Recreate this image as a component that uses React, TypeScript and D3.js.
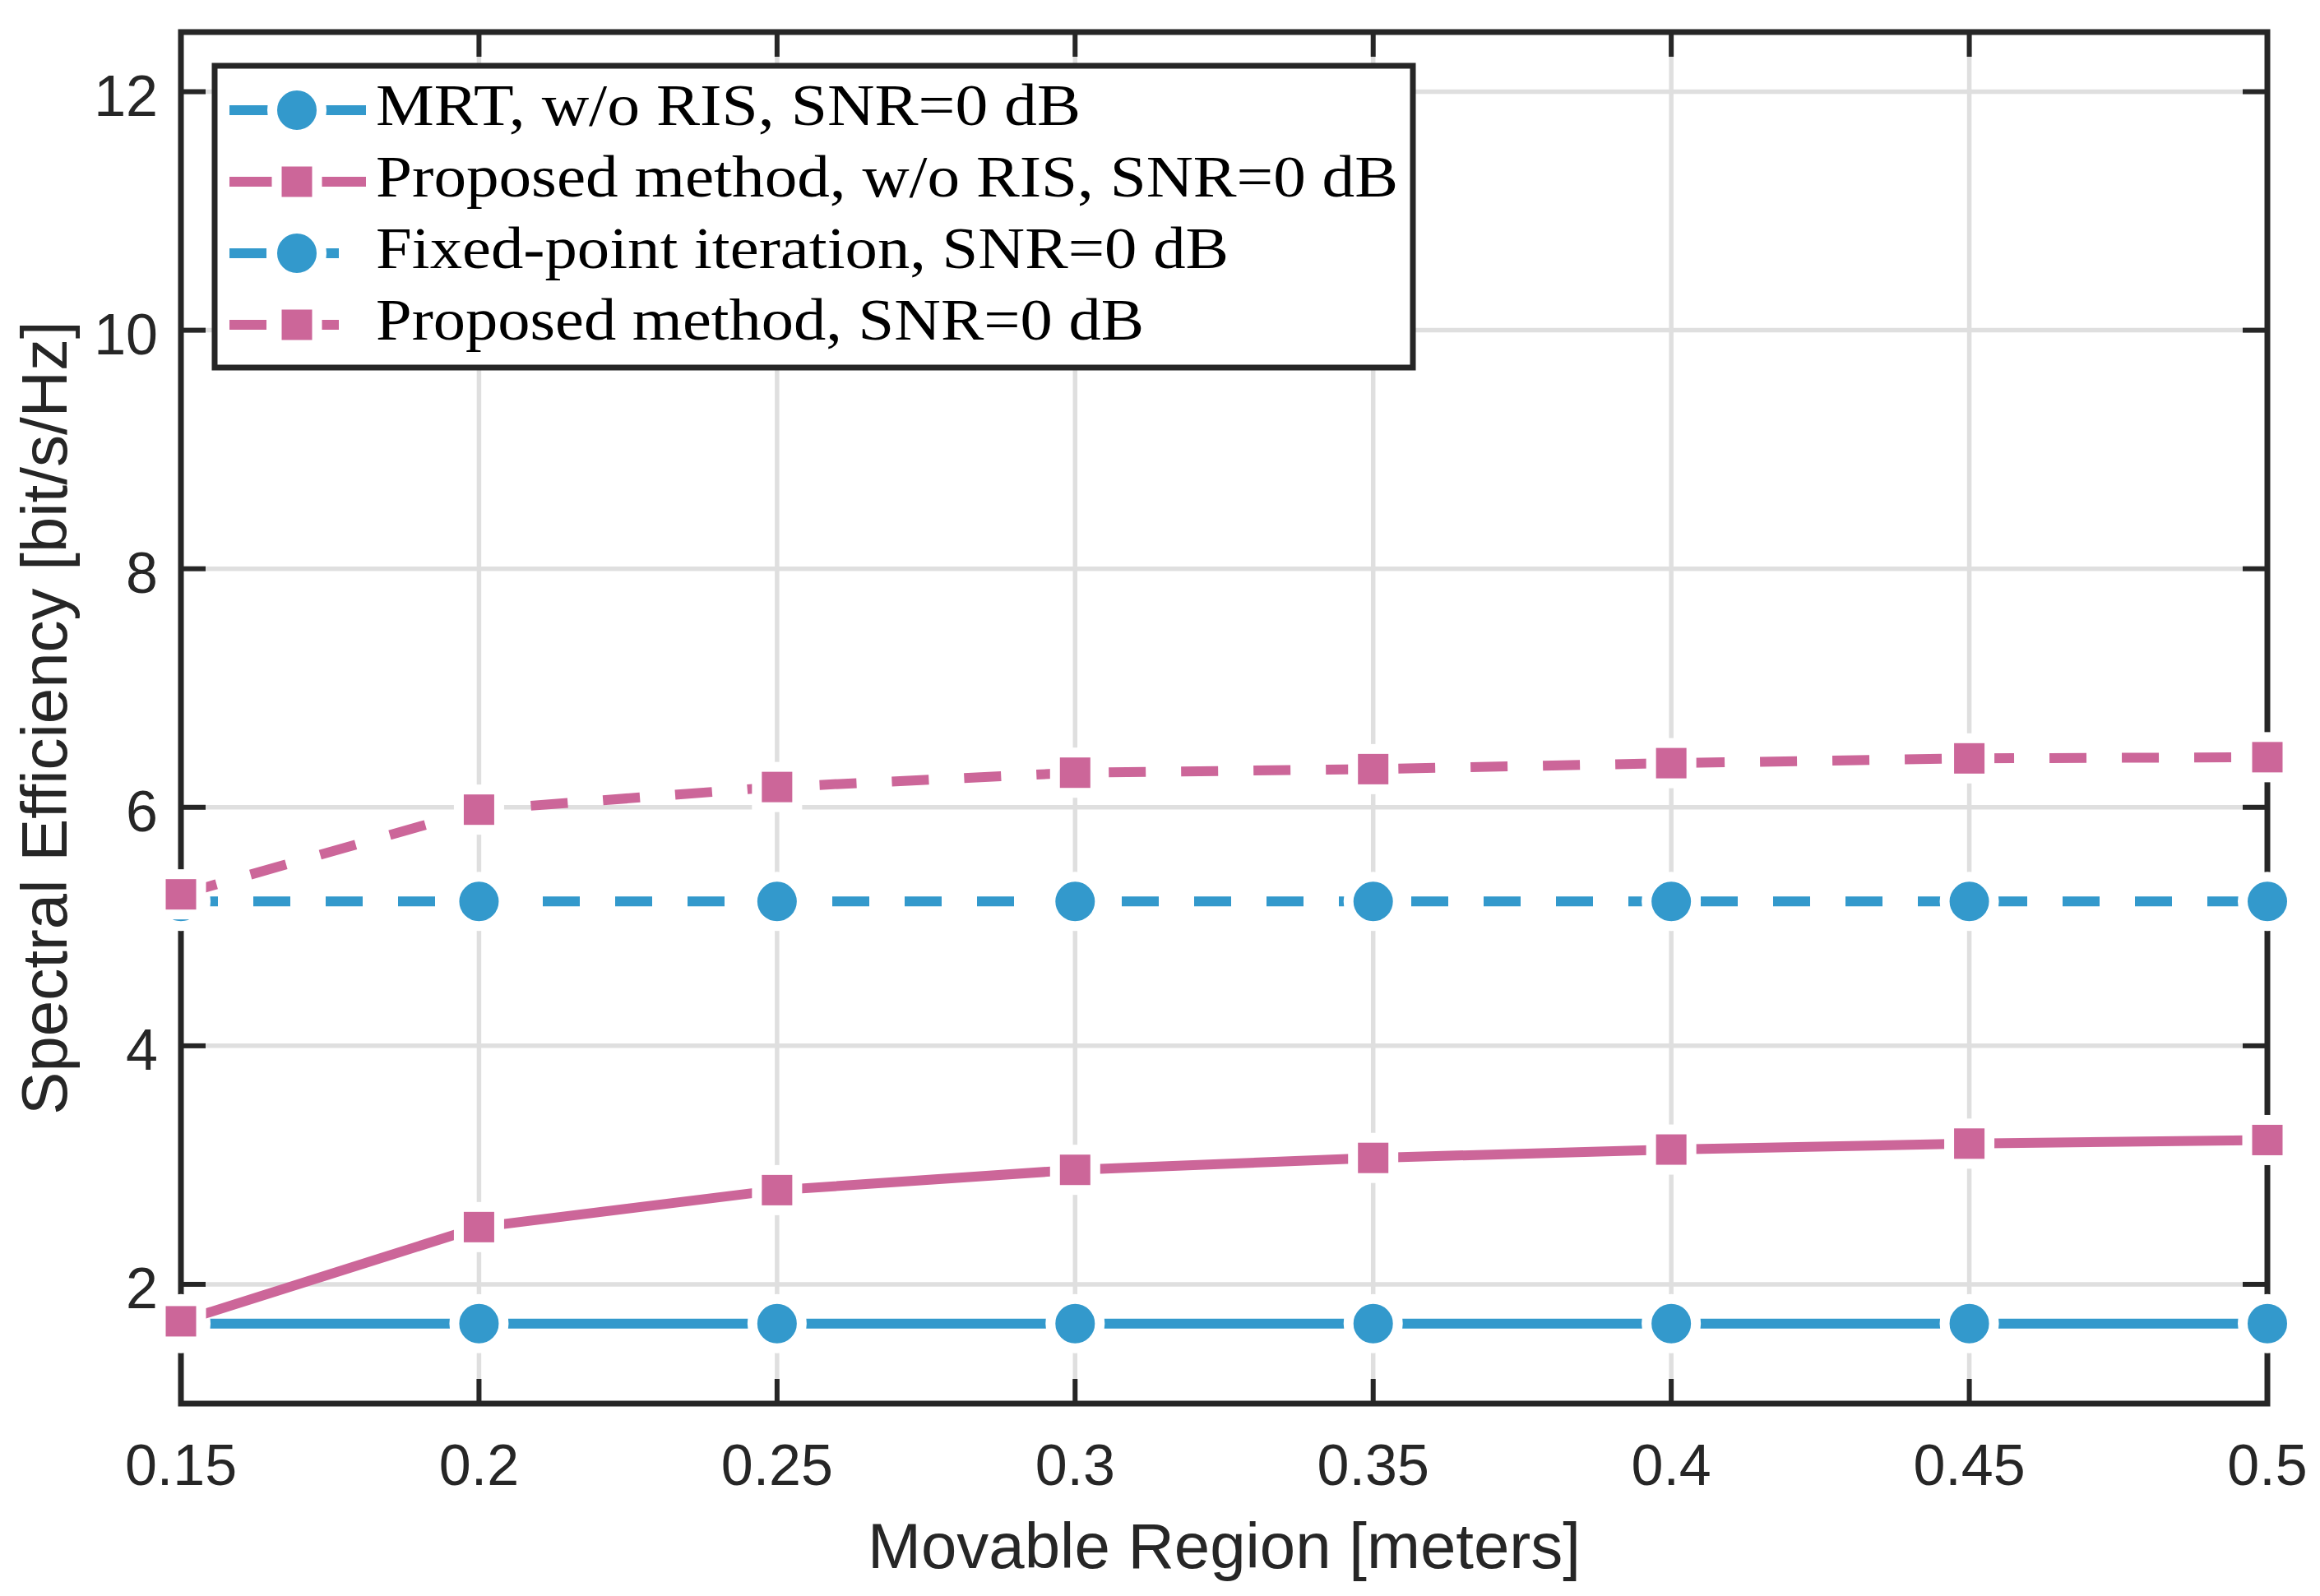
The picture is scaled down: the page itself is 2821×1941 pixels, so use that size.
import React, { useEffect } from 'react';
import * as d3 from 'd3';

// movable region sizes [meters]
const regions = [0.15, 0.2, 0.25, 0.3, 0.35, 0.4, 0.45, 0.5];

// spectral efficiency [bit/s/Hz]
const mrtNoRis = [1.67, 1.67, 1.67, 1.67, 1.67, 1.67, 1.67, 1.67];
const proposedNoRis = [1.69, 2.48, 2.79, 2.96, 3.06, 3.13, 3.18, 3.21];
const fixedPoint = [5.21, 5.21, 5.21, 5.21, 5.21, 5.21, 5.21, 5.21];
const proposed = [5.27, 5.98, 6.17, 6.29, 6.32, 6.37, 6.41, 6.42];

const xTicks = [0.15, 0.2, 0.25, 0.3, 0.35, 0.4, 0.45, 0.5];
const yTicks = [2, 4, 6, 8, 10, 12];

const seriesNames = [
  'MRT, w/o RIS, SNR=0 dB',
  'Proposed method, w/o RIS, SNR=0 dB',
  'Fixed-point iteration, SNR=0 dB',
  'Proposed method, SNR=0 dB',
];

const BLUE = '#3399cc';
const PINK = '#cc6699';
const AXIS = '#262626';
const GRID = '#dfdfdf';

const series = [
  { name: seriesNames[0], values: mrtNoRis, color: BLUE, marker: 'circle', dash: null, textLen: 857 },
  { name: seriesNames[1], values: proposedNoRis, color: PINK, marker: 'square', dash: null, textLen: 1243 },
  { name: seriesNames[2], values: fixedPoint, color: BLUE, marker: 'circle', dash: '45 43', textLen: 1037 },
  { name: seriesNames[3], values: proposed, color: PINK, marker: 'square', dash: '45 43', textLen: 934 },
];

const W = 2821;
const H = 1941;
const left = 220;
const right = 2757;
const top = 39;
const bottom = 1707;

const sans = 'Liberation Sans, Arial, Helvetica, sans-serif';
const serif = 'Liberation Serif, Times New Roman, serif';

const Marker: React.FC<{ kind: string; cx: number; cy: number; color: string }> = ({ kind, cx, cy, color }) =>
  kind === 'circle' ? (
    <circle cx={cx} cy={cy} r={30} fill={color} stroke="#fff" strokeWidth={12} />
  ) : (
    <rect x={cx - 24.5} y={cy - 24.5} width={49} height={49} fill={color} stroke="#fff" strokeWidth={12} />
  );

export default function App() {
  useEffect(() => {
    document.body.style.margin = '0';
  }, []);

  const x = d3.scaleLinear().domain([0.15, 0.5]).range([left, right]);
  const y = d3.scaleLinear().domain([1, 12.5]).range([bottom, top]);

  const line = d3
    .line<number>()
    .x((_, i) => x(regions[i]))
    .y((d) => y(d));

  const fmt = (d: number) => String(+d.toFixed(2));
  const tickLen = 30;

  // legend layout
  const lgX = 261;
  const lgY = 80;
  const lgW = 1457;
  const lgH = 367;
  const rowY = [134, 221, 308, 395];
  const lineX0 = 279;
  const lineX1 = 445;
  const markX = 361;
  const textX = 457;

  return (
    <svg width={W} height={H} viewBox={`0 0 ${W} ${H}`} style={{ display: 'block', background: '#fff' }}>
      <rect x={0} y={0} width={W} height={H} fill="#fff" />

      {/* grid */}
      <g stroke={GRID} strokeWidth={5.5}>
        {xTicks.map((t) => (
          <line key={'gx' + t} x1={x(t)} x2={x(t)} y1={top} y2={bottom} />
        ))}
        {yTicks.map((t) => (
          <line key={'gy' + t} x1={left} x2={right} y1={y(t)} y2={y(t)} />
        ))}
      </g>

      {/* ticks, all four sides, inward */}
      <g stroke={AXIS} strokeWidth={6}>
        {xTicks.map((t) => (
          <g key={'tx' + t}>
            <line x1={x(t)} x2={x(t)} y1={bottom} y2={bottom - tickLen} />
            <line x1={x(t)} x2={x(t)} y1={top} y2={top + tickLen} />
          </g>
        ))}
        {yTicks.map((t) => (
          <g key={'ty' + t}>
            <line x1={left} x2={left + tickLen} y1={y(t)} y2={y(t)} />
            <line x1={right} x2={right - tickLen} y1={y(t)} y2={y(t)} />
          </g>
        ))}
      </g>

      {/* axes box */}
      <rect x={left} y={top} width={right - left} height={bottom - top} fill="none" stroke={AXIS} strokeWidth={7} />

      {/* tick labels */}
      <g fill={AXIS} fontFamily={sans} fontSize={70}>
        {xTicks.map((t) => (
          <text key={'lx' + t} x={x(t)} y={1806} textAnchor="middle">
            {fmt(t)}
          </text>
        ))}
        {yTicks.map((t) => (
          <text key={'ly' + t} x={192} y={y(t) + 29} textAnchor="end">
            {fmt(t)}
          </text>
        ))}
      </g>

      {/* axis labels */}
      <text x={(left + right) / 2} y={1907} textAnchor="middle" fontFamily={sans} fontSize={78} fill={AXIS}>
        Movable Region [meters]
      </text>
      <text
        transform={`translate(81,${(top + bottom) / 2}) rotate(-90)`}
        textAnchor="middle"
        fontFamily={sans}
        fontSize={78}
        fill={AXIS}
      >
        Spectral Efficiency [bit/s/Hz]
      </text>

      {/* series */}
      {series.map((s) => (
        <g key={s.name}>
          <path
            d={line(s.values) || ''}
            fill="none"
            stroke={s.color}
            strokeWidth={12}
            strokeDasharray={s.dash || undefined}
          />
          {s.values.map((v, i) => (
            <Marker key={i} kind={s.marker} cx={x(regions[i])} cy={y(v)} color={s.color} />
          ))}
        </g>
      ))}

      {/* legend */}
      <rect x={lgX} y={lgY} width={lgW} height={lgH} fill="#fff" stroke={AXIS} strokeWidth={7} />
      {series.map((s, i) => (
        <g key={'lg' + s.name}>
          <line
            x1={lineX0}
            x2={lineX1}
            y1={rowY[i]}
            y2={rowY[i]}
            stroke={s.color}
            strokeWidth={12}
            strokeDasharray={s.dash || undefined}
          />
          <Marker kind={s.marker} cx={markX} cy={rowY[i]} color={s.color} />
          <text
            x={textX}
            y={rowY[i] + 18}
            fontFamily={serif}
            fontSize={72}
            fill="#000"
            textLength={s.textLen}
            lengthAdjust="spacingAndGlyphs"
          >
            {s.name}
          </text>
        </g>
      ))}
    </svg>
  );
}
